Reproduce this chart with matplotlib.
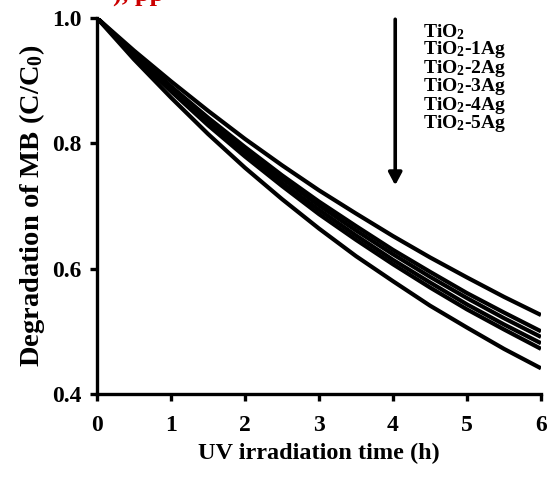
import matplotlib
matplotlib.use("Agg")
import matplotlib.pyplot as plt

plt.rcParams['font.family'] = ['Liberation Serif', 'DejaVu Serif']
plt.rcParams['font.weight'] = 'bold'
plt.rcParams['mathtext.fontset'] = 'custom'
plt.rcParams['mathtext.rm'] = 'Liberation Serif:bold'
plt.rcParams['mathtext.it'] = 'Liberation Serif:bold'
plt.rcParams['mathtext.bf'] = 'Liberation Serif:bold'
plt.rcParams['mathtext.default'] = 'rm'

# Data
time_h = [0, 0.5, 1, 1.5, 2, 2.5, 3, 3.5, 4, 4.5, 5, 5.5, 6]
tio2   = [1.0, 0.948, 0.899, 0.852, 0.807, 0.765, 0.725, 0.688, 0.652, 0.618, 0.586, 0.555, 0.526]
ag1    = [1.0, 0.944, 0.891, 0.841, 0.794, 0.749, 0.707, 0.668, 0.630, 0.595, 0.561, 0.530, 0.500]
ag2    = [1.0, 0.943, 0.888, 0.837, 0.789, 0.744, 0.701, 0.661, 0.623, 0.587, 0.553, 0.521, 0.491]
ag3    = [1.0, 0.941, 0.885, 0.833, 0.784, 0.737, 0.694, 0.653, 0.614, 0.578, 0.543, 0.511, 0.481]
ag4    = [1.0, 0.939, 0.883, 0.829, 0.779, 0.732, 0.687, 0.646, 0.607, 0.570, 0.535, 0.503, 0.472]
ag5    = [1.0, 0.934, 0.873, 0.815, 0.761, 0.711, 0.664, 0.620, 0.580, 0.541, 0.506, 0.472, 0.441]
series = [tio2, ag1, ag2, ag3, ag4, ag5]
labels = [r"TiO$_2$", r"TiO$_2$-1Ag", r"TiO$_2$-2Ag", r"TiO$_2$-3Ag", r"TiO$_2$-4Ag", r"TiO$_2$-5Ag"]
xticks = [0, 1, 2, 3, 4, 5, 6]
yticks = [0.4, 0.6, 0.8, 1.0]

fig = plt.figure(figsize=(5.51, 4.80), dpi=100)
ax = fig.add_axes([97/551, 1-394/480, 444/551, 376/480])

for s in series:
    ax.plot(time_h, s, color='black', lw=3.0, solid_capstyle='butt')

ax.set_xlim(0, 6)
ax.set_ylim(0.4, 1.0)
ax.set_xticks(xticks)
ax.set_xticklabels([str(t) for t in xticks])
ax.set_yticks(yticks)
ax.set_yticklabels([f"{v:.1f}" for v in yticks])
for sp in ['top', 'right']:
    ax.spines[sp].set_visible(False)
for sp in ['left', 'bottom']:
    ax.spines[sp].set_linewidth(2.4)
ax.tick_params(axis='both', direction='out', length=5, width=2.4, labelsize=17, pad=6)
ax.tick_params(axis='x', pad=10)

ax.set_xlabel("UV irradiation time (h)", fontsize=17.5, fontweight='bold', labelpad=5)
ax.set_ylabel(r"Degradation of MB (C/C$_0$)", fontsize=20.5, fontweight='bold', labelpad=4)

# Legend-like labels with arrow
ys = [0.978, 0.949, 0.920, 0.890, 0.861, 0.832]
for lab, yv in zip(labels, ys):
    ax.text(4.41, yv, lab, fontsize=14, fontweight='bold', va='center', ha='left')
ax.annotate("", xy=(4.03, 0.733), xytext=(4.03, 0.998),
            arrowprops=dict(arrowstyle='-|>,head_width=0.4,head_length=0.75', lw=2.6, color='black',
                            shrinkA=0, shrinkB=0))

# Red text partially cut at top
fig.text(164/551, 1-2/480, "), pp", color='#cc0000', fontsize=19, fontweight='bold', va='baseline', ha='right')

fig.savefig("out.png", dpi=100)
